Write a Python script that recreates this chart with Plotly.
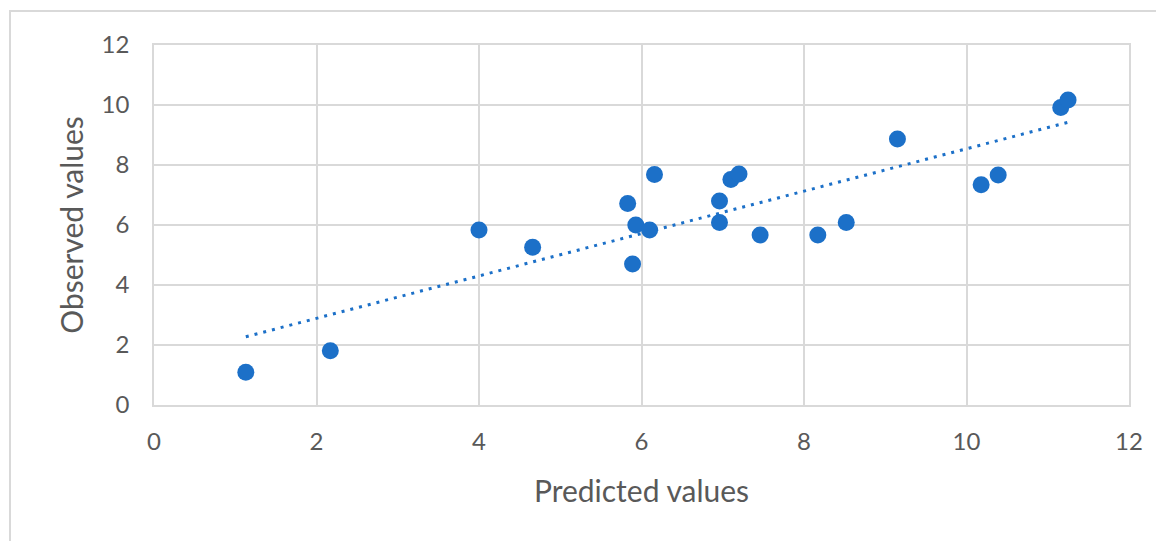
import numpy as np
import plotly.graph_objects as go

# Data
predicted = [1.13, 2.17, 4.00, 4.66, 5.83, 6.16, 5.93, 6.10, 5.89, 6.96, 6.96,
             7.10, 7.20, 7.46, 8.17, 8.52, 9.15, 10.18, 10.39, 11.16, 11.25]
observed = [1.09, 1.81, 5.83, 5.26, 6.72, 7.68, 6.00, 5.83, 4.70, 6.80, 6.08,
            7.52, 7.70, 5.67, 5.67, 6.08, 8.87, 7.34, 7.67, 9.92, 10.17]
tick_vals = [0, 2, 4, 6, 8, 10, 12]

x_title = "Predicted values"
y_title = "Observed values"

BLUE = "#1c70c8"
GRID = "#d9d9d9"
TXT = "#595959"
FONT = "Lato, 'Open Sans', sans-serif"

# Linear trendline spanning the data range
slope, intercept = np.polyfit(predicted, observed, 1)
trend_x = [min(predicted), max(predicted)]
trend_y = [slope * v + intercept for v in trend_x]

fig = go.Figure()
fig.add_trace(go.Scatter(
    x=trend_x, y=trend_y, mode="lines",
    line=dict(color=BLUE, width=3, dash="3px,6px"),
    hoverinfo="skip", showlegend=False,
))
fig.add_trace(go.Scatter(
    x=predicted, y=observed, mode="markers",
    marker=dict(color=BLUE, size=17, line=dict(width=0)),
    showlegend=False,
))

# page has an 8px body margin, so the figure is 8px smaller than the window
W, H = 1156, 533
L, R, T, B = 146, 35, 37, 136
pw, ph = W - L - R, H - T - B

fig.update_layout(
    width=W, height=H,
    margin=dict(l=L, r=R, t=T, b=B, autoexpand=False),
    paper_bgcolor="white", plot_bgcolor="white",
    font=dict(family=FONT, color=TXT),
    xaxis=dict(
        range=[0, 12], tickvals=tick_vals, showgrid=True, gridcolor=GRID, gridwidth=1.5,
        zeroline=False, showline=True, linecolor=GRID, linewidth=1.5, mirror=True,
        ticks="", tickfont=dict(size=24, color=TXT), ticklabelstandoff=14,
        title=dict(text=x_title, font=dict(size=30, color=TXT), standoff=27),
        automargin=False, fixedrange=True,
    ),
    yaxis=dict(
        range=[0, 12], tickvals=tick_vals, showgrid=True, gridcolor=GRID, gridwidth=1.5,
        zeroline=False, showline=True, linecolor=GRID, linewidth=1.5, mirror=True,
        ticks="", tickfont=dict(size=24, color=TXT), ticklabelstandoff=18,
        title=dict(text=y_title, font=dict(size=30, color=TXT), standoff=9),
        automargin=False, fixedrange=True,
    ),
    shapes=[dict(
        type="rect", xref="paper", yref="paper",
        x0=(2 - L) / pw, x1=(W + 20 - L) / pw,
        y0=-(H + 20 - (H - B)) / ph, y1=((H - B) - 3) / ph,
        line=dict(color=GRID, width=2), layer="below",
    )],
)

fig.write_html("out.html")
